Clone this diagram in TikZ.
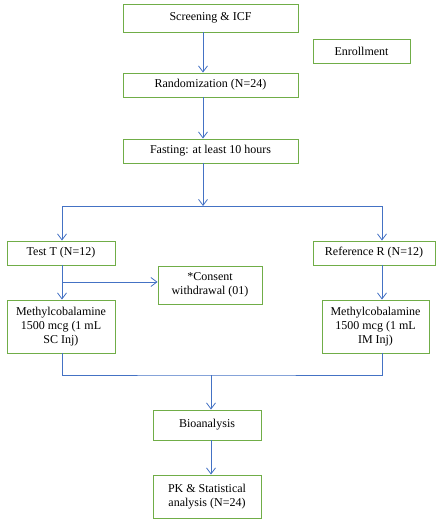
\documentclass[tikz,border=0pt]{standalone}
\usepackage{xcolor}
\usepackage{fontspec}
\setmainfont{Liberation Serif}
\usepackage{tikz}
\usetikzlibrary{shapes,arrows.meta,positioning}

\definecolor{boxgreen}{RGB}{112,173,71}
\definecolor{lineblue}{RGB}{68,114,196}

\tikzset{
  flowbox/.style={shape=rectangle, draw=boxgreen, line width=0.9pt, inner sep=0pt, align=center,
    font=\fontsize{12}{14}\selectfont},
  flowline/.style={draw=lineblue, line width=0.8pt},
  >={Straight Barb[length=6pt,width=9pt]}
}

\begin{document}
\begin{tikzpicture}[x=1pt,y=-1pt]
\useasboundingbox (0,0) rectangle (441,522);

% Enrollment
\node [flowbox, minimum width=175pt, minimum height=28pt] at (210.5,18) (screen) {Screening \& ICF};
\node [flowbox, minimum width=97pt,  minimum height=24pt] at (361.5,51) (enroll) {Enrollment};
\node [flowbox, minimum width=175pt, minimum height=24pt] at (210.5,85) (random) {Randomization (N=24)};
\node [flowbox, minimum width=175pt, minimum height=24pt] at (210.5,151) (fasting) {Fasting: at least 10 hours};

% Treatment arms
\node [flowbox, minimum width=108pt, minimum height=24pt] at (61,253) (test_t) {Test T (N=12)};
\node [flowbox, minimum width=122pt, minimum height=24pt] at (374,253) (ref_r) {Reference R (N=12)};
\node [flowbox, minimum width=104pt, minimum height=38pt] at (210,285) (consent) {*Consent\\withdrawal (01)};
\node [flowbox, minimum width=108pt, minimum height=53pt] at (61,326.5) (meth_t) {Methylcobalamine\\1500 mcg (1 mL\\SC Inj)};
\node [flowbox, minimum width=107pt, minimum height=53pt] at (375.5,326.5) (meth_r) {Methylcobalamine\\1500 mcg (1 mL\\IM Inj)};

% Analysis
\node [flowbox, minimum width=108pt, minimum height=30pt] at (207,425) (bio) {Bioanalysis};
\node [flowbox, minimum width=108pt, minimum height=43pt] at (207,496.5) (pk) {PK \& Statistical\\analysis (N=24)};

\coordinate (split) at (203,206);
\coordinate (r_branch) at (382,206);
\coordinate (c_branch) at (62,282);
\coordinate (merge) at (211,375);

\draw [->,flowline] (screen.south -| split) -- (random.north -| split);
\draw [->,flowline] (random.south -| split) -- (fasting.north -| split);
\draw [->,flowline] (fasting.south -| split) -- (split);
\draw [->,flowline] (split) -| (test_t.north -| c_branch);
\draw [->,flowline] (split) -- (r_branch) -- (ref_r.north -| r_branch);
\draw [->,flowline] (test_t.south -| c_branch) -- (meth_t.north -| c_branch);
\draw [->,flowline] (c_branch) -- (consent.west |- c_branch);
\draw [->,flowline] (ref_r.south -| r_branch) -- (meth_r.north -| r_branch);
\draw [flowline] (meth_t.south -| c_branch) |- (merge) -| (meth_r.south -| r_branch);
\draw [->,flowline] (merge) -- (bio.north -| merge);
\draw [->,flowline] (bio.south -| merge) -- (pk.north -| merge);

\end{tikzpicture}
\end{document}
